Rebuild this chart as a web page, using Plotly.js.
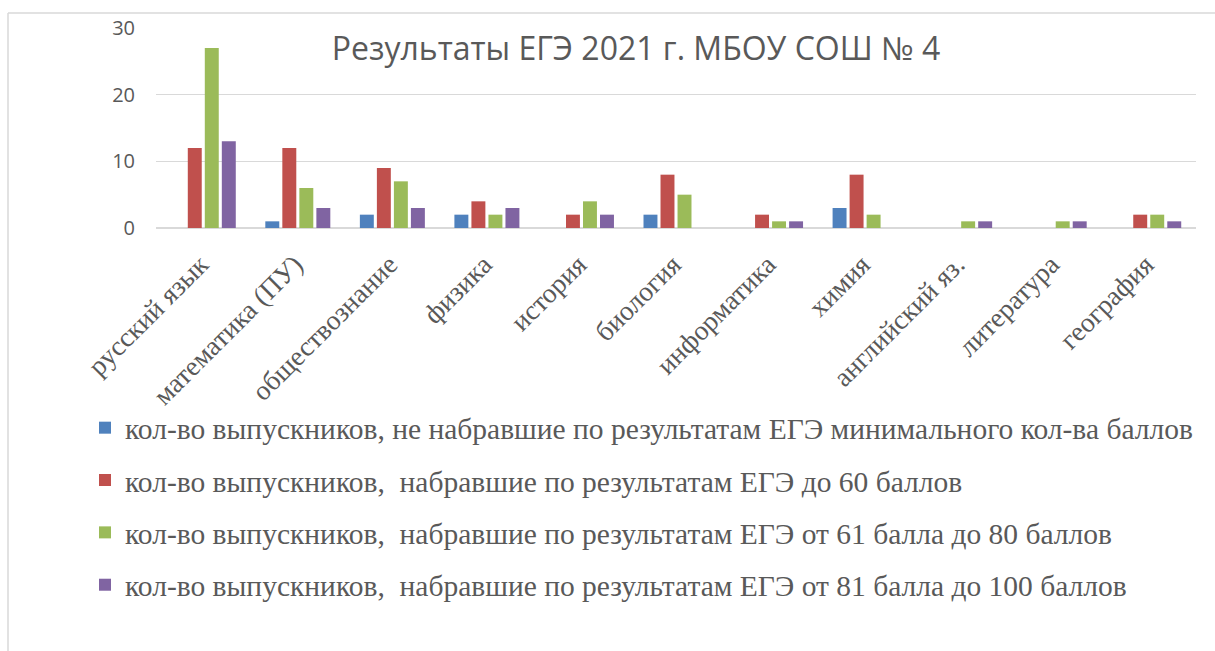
<!DOCTYPE html>
<html>
<head>
<meta charset="utf-8">
<script src="https://cdn.plot.ly/plotly-3.0.1.min.js"></script>
<style>html,body{margin:0;padding:0;background:#fff;}#chart{width:1215px;height:651px;}</style>
</head>
<body>
<div id="chart"></div>
<script>
const categories = ["русский язык", "математика (ПУ)", "обществознание", "физика", "история", "биология", "информатика", "химия", "английский яз.", "литература", "география"];
const seriesNames = [
  "кол-во выпускников, не набравшие по результатам ЕГЭ минимального кол-ва баллов",
  "кол-во выпускников, \u00A0набравшие по результатам ЕГЭ до 60 баллов",
  "кол-во выпускников, \u00A0набравшие по результатам ЕГЭ от 61 балла до 80 баллов",
  "кол-во выпускников, \u00A0набравшие по результатам ЕГЭ от 81 балла до 100 баллов"
];
const notPassed = [0, 1, 2, 2, 0, 2, 0, 3, 0, 0, 0];
const upTo60 = [12, 12, 9, 4, 2, 8, 2, 8, 0, 0, 2];
const from61to80 = [27, 6, 7, 2, 4, 5, 1, 2, 1, 1, 2];
const from81to100 = [13, 3, 3, 3, 2, 0, 1, 0, 1, 1, 1];
const yTickVals = [0, 10, 20, 30];

const colors = ["#4F81BD", "#C0504D", "#9BBB59", "#8064A2"];
const values = [notPassed, upTo60, from61to80, from81to100];

const W = 1215, H = 651;
const L = 156, R = 1196, T = 28, B = 228;
const px = x => (x - L) / (R - L);
const py = y => (B - y) / (B - T);

const traces = values.map((v, i) => ({
  type: "bar",
  x: categories,
  y: v,
  name: seriesNames[i],
  legendgroup: "g" + i,
  marker: {color: colors[i]},
  hoverinfo: "x+y"
}));

const layout = {
  width: W, height: H,
  paper_bgcolor: "#ffffff",
  plot_bgcolor: "#ffffff",
  margin: {l: L, r: W - R, t: T, b: H - B, pad: 0},
  barmode: "group",
  bargap: 0.28,
  bargroupgap: 0.18,
  showlegend: true,
  title: {
    text: "Результаты ЕГЭ 2021 г. МБОУ СОШ № 4",
    font: {family: "Open Sans", size: 32, color: "#595959"},
    xref: "paper", x: px(636), xanchor: "center",
    yref: "container", y: 1 - 49 / H, yanchor: "middle"
  },
  xaxis: {
    type: "category",
    tickangle: -45,
    tickfont: {family: "Liberation Serif", size: 27.5, color: "#595959"},
    showgrid: false,
    showline: false,
    zeroline: false,
    ticks: "",
    ticklabelstandoff: 14,
    ticklabelshift: -3,
    fixedrange: true
  },
  yaxis: {
    range: [0, 30],
    tickvals: yTickVals,
    ticktext: yTickVals.map(String),
    tickfont: {family: "Open Sans", size: 20, color: "#595959"},
    gridcolor: "#d9d9d9",
    gridwidth: 1.5,
    zeroline: true,
    zerolinecolor: "#d9d9d9",
    zerolinewidth: 1.5,
    showline: false,
    ticks: "",
    ticklabelstandoff: 20,
    fixedrange: true
  },
  legend: {
    orientation: "v",
    x: px(85), xanchor: "left",
    y: py(402), yanchor: "top",
    font: {family: "Liberation Serif", size: 29.5, color: "#595959"},
    tracegroupgap: 11,
    bgcolor: "rgba(0,0,0,0)",
    itemclick: false, itemdoubleclick: false
  },
  shapes: [
    {type: "line", xref: "paper", yref: "paper", x0: px(8), x1: px(1230), y0: py(13), y1: py(13), line: {color: "#d9d9d9", width: 1.5}, layer: "below"},
    {type: "line", xref: "paper", yref: "paper", x0: px(8), x1: px(8), y0: py(13), y1: py(670), line: {color: "#d9d9d9", width: 1.5}, layer: "below"}
  ]
};

Plotly.newPlot("chart", traces, layout, {displayModeBar: false, staticPlot: true});
</script>
</body>
</html>
